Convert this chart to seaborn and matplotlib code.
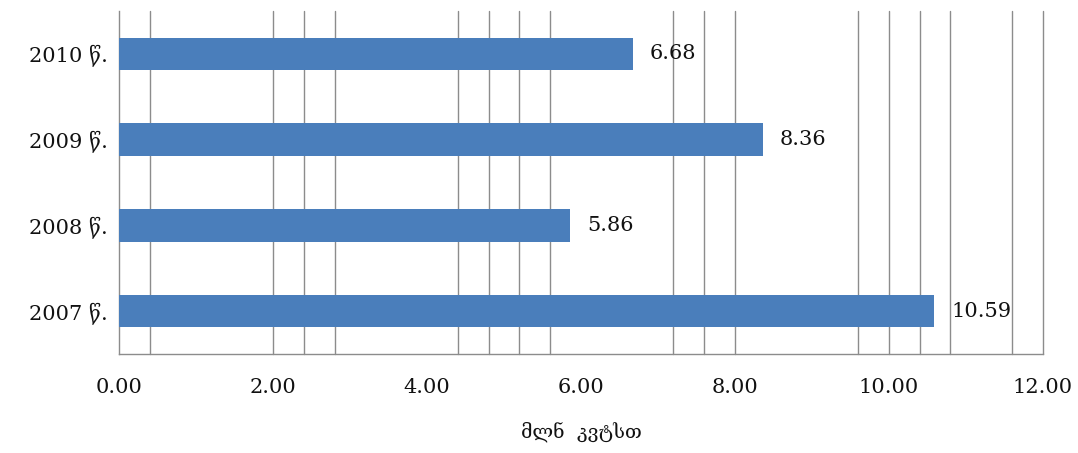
import matplotlib
matplotlib.use("Agg")
import matplotlib.pyplot as plt
import seaborn as sns
import pandas as pd

# Annual electricity figures, million kWh
years = ["2010 წ.", "2009 წ.", "2008 წ.", "2007 წ."]
values = [6.68, 8.36, 5.86, 10.59]
x_ticks = [0, 2, 4, 6, 8, 10, 12]
x_tick_labels = ["0.00", "2.00", "4.00", "6.00", "8.00", "10.00", "12.00"]
grid_lines = [0.4, 2.0, 2.4, 2.8, 4.4, 4.8, 5.2, 5.6, 7.2, 7.6, 8.0,
              9.6, 10.0, 10.4, 10.8, 11.6, 12.0]
x_label = "მლნ  კვტსთ"

sns.set_theme(style="white")
plt.rcParams["font.family"] = ["DejaVu Serif", "DejaVu Sans"]

df = pd.DataFrame({"year": years, "value": values})

fig = plt.figure(figsize=(10.78, 4.53), dpi=100)
ax = fig.add_axes([0.1104, 0.2185, 0.857, 0.757])

bar_color = "#4a7ebb"
sns.barplot(data=df, x="value", y="year", order=years, orient="h",
            color=bar_color, saturation=1, width=0.38, linewidth=0,
            ax=ax, zorder=3)

ax.set_xlim(0, 12)
ax.set_xticks(x_ticks)
ax.set_xticklabels(x_tick_labels)
ax.grid(False)
# vertical gridlines drawn behind the bars
for gx in grid_lines:
    ax.axvline(gx, color="#8c8c8c", linewidth=1.0, zorder=1, clip_on=False)

ax.tick_params(axis="x", length=0, pad=17, labelsize=15,
               labelcolor="#111111")
ax.tick_params(axis="y", length=0, pad=8, labelsize=15, labelcolor="#111111")

for side in ["top", "right"]:
    ax.spines[side].set_visible(False)
for side in ["left", "bottom"]:
    ax.spines[side].set_color("#8c8c8c")
    ax.spines[side].set_linewidth(1.0)

for container in ax.containers:
    ax.bar_label(container, labels=[f"{v:.2f}" for v in values],
                 padding=12, fontsize=15, color="#111111")

ax.set_ylabel("")
ax.set_xlabel(x_label, fontsize=14, color="#111111", labelpad=18,
              family=["DejaVu Serif", "DejaVu Sans"])

fig.savefig("out.png", dpi=100, facecolor="white")
